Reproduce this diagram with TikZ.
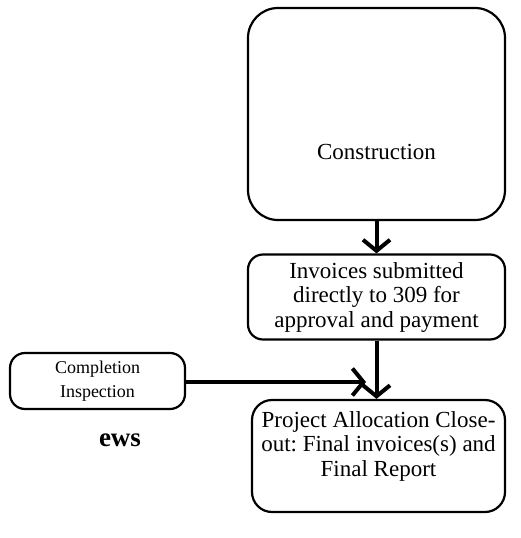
\documentclass[tikz,border=0pt]{standalone}
\usepackage{fontspec}
\setmainfont{Liberation Serif}
\usetikzlibrary{arrows.meta,positioning}
\frenchspacing

\begin{document}
\begin{tikzpicture}[x=1pt, y=-1pt,
    box/.style   = {draw, line width=2.2pt, rounded corners=15pt,
      align=center, inner sep=0pt,
      font=\fontsize{23}{24.5}\selectfont},
    boxtext/.style = {align=center, inner sep=0pt,
      font=\fontsize{23}{24.5}\selectfont},
    flow/.style  = {line width=4pt,
      -{Straight Barb[length=11pt,width=27pt]}},
  ]
  \useasboundingbox (0,0) rectangle (520,538);
  % main column
  \node[box, rounded corners=30pt, minimum width=257pt,
    minimum height=212pt] (constr) at (376.5,114) {};
  \node[boxtext] (constrtext)
    at ([yshift=-38pt]constr.center) {Construction};
  \node[box, minimum width=257pt, minimum height=85pt]
    (invoice) at (376.5,297)
    {Invoices submitted\\directly to 309 for\\approval and payment};
  \node[box, rounded corners=20pt, minimum width=253pt,
    minimum height=112pt] (closeout) at (378.5,456) {};
  \node[boxtext] (closeouttext) at ([yshift=10pt]closeout.center)
    {Project Allocation Close-\\out: Final invoices(s) and\\Final Report};
  % side box
  \node[box, font=\fontsize{18}{24}\selectfont, minimum width=175pt,
    minimum height=56pt] (inspect) at (97.5,381)
    {Completion\\Inspection};
  \coordinate (insptip) at (366,382);
  \node[font=\bfseries\fontsize{27}{30}\selectfont] (ews) at (120,440) {ews};
  % connectors
  \draw[flow] (constr.south) -- (invoice.north);
  \draw[flow] (invoice.south) -- (invoice.south |- closeout.north);
  \draw[flow] (inspect.east |- insptip) -- (insptip);
\end{tikzpicture}
\end{document}
